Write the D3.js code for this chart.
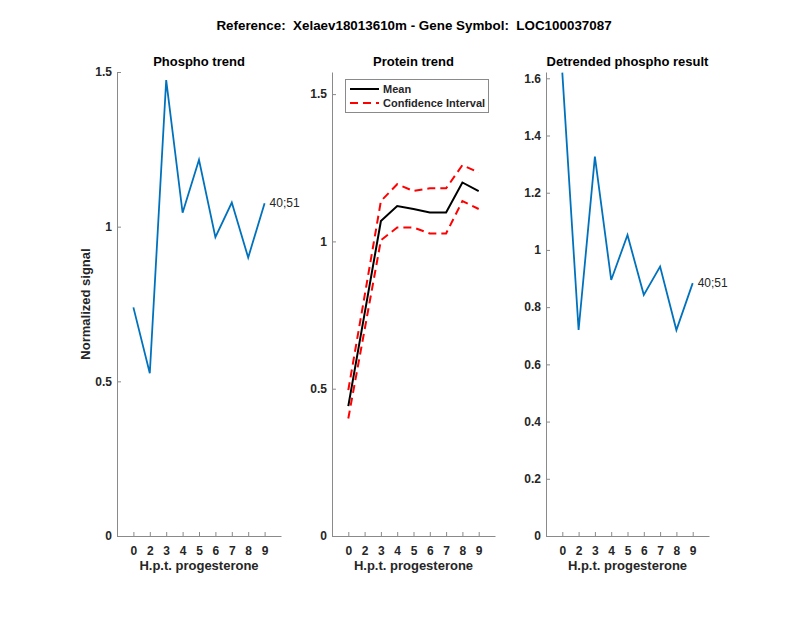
<!DOCTYPE html>
<html>
<head>
<meta charset="utf-8">
<script src="https://cdn.jsdelivr.net/npm/d3@7/dist/d3.min.js"></script>
<style>
  html, body { margin: 0; padding: 0; background: #fff; }
  text { font-family: "Liberation Sans", Arial, Helvetica, sans-serif; }
</style>
</head>
<body>
<svg id="chart" width="800" height="618"></svg>
<script>
// ---- data ----
const xPositions = [1, 2, 3, 4, 5, 6, 7, 8, 9];
const xTickLabels = ["0", "2", "3", "4", "5", "6", "7", "8", "9"];
const phosphoValues = [0.739, 0.526, 1.474, 1.045, 1.216, 0.966, 1.078, 0.900, 1.076];
const proteinMean = [0.441, 0.755, 1.069, 1.120, 1.110, 1.098, 1.098, 1.200, 1.171];
const proteinUpper = [0.495, 0.815, 1.137, 1.194, 1.171, 1.180, 1.180, 1.259, 1.234];
const proteinLower = [0.399, 0.700, 1.004, 1.047, 1.047, 1.027, 1.027, 1.137, 1.110];
const detrendedValues = [1.620, 0.720, 1.326, 0.895, 1.052, 0.843, 0.942, 0.720, 0.884];
const phosphoYTicks = [0, 0.5, 1, 1.5];
const proteinYTicks = [0, 0.5, 1, 1.5];
const detrendedYTicks = [0, 0.2, 0.4, 0.6, 0.8, 1, 1.2, 1.4, 1.6];
const peptideLabel = "40;51";
const mainTitle = "Reference:  Xelaev18013610m - Gene Symbol:  LOC100037087";

const svg = d3.select("#chart");
const plotTop = 72, plotBottom = 536;
const axisColor = "#8a8a8a", textColor = "#262626";

svg.append("text").attr("x", 414).attr("y", 30).attr("text-anchor", "middle")
  .attr("font-size", 13.4).attr("font-weight", "bold").attr("fill", "#000")
  .attr("xml:space", "preserve").style("white-space", "pre").text(mainTitle);

const panels = [
  { x0: 117, x1: 281, yMax: 1.5, ticks: phosphoYTicks, title: "Phospho trend" },
  { x0: 332, x1: 495, yMax: 1.575, ticks: proteinYTicks, title: "Protein trend" },
  { x0: 546, x1: 709, yMax: 1.622, ticks: detrendedYTicks, title: "Detrended phospho result" }
];

panels.forEach((p, i) => {
  p.x = d3.scaleLinear().domain([0, 10]).range([p.x0, p.x1]);
  p.y = d3.scaleLinear().domain([0, p.yMax]).range([plotBottom, plotTop]);
  const g = svg.append("g");

  const xAxis = d3.axisBottom(p.x).tickValues(xPositions)
    .tickFormat((d, k) => xTickLabels[k]).tickSizeInner(-4).tickSizeOuter(0).tickPadding(8);
  const gx = g.append("g").attr("transform", `translate(0,${plotBottom})`).call(xAxis);
  const yAxis = d3.axisLeft(p.y).tickValues(p.ticks).tickFormat(d3.format("~g"))
    .tickSizeInner(-4).tickSizeOuter(0).tickPadding(5);
  const gy = g.append("g").attr("transform", `translate(${p.x0},0)`).call(yAxis);

  [gx, gy].forEach(a => {
    a.select(".domain").attr("stroke", axisColor).attr("stroke-width", 1);
    a.selectAll(".tick line").attr("stroke", axisColor);
    a.selectAll(".tick text").attr("fill", textColor).attr("font-size", 12)
      .attr("font-weight", "bold").attr("font-family", "Liberation Sans, Arial, sans-serif");
  });
  gx.selectAll(".tick text").attr("dy", "0.9em");

  g.append("text").attr("x", (p.x0 + p.x1) / 2).attr("y", 66).attr("text-anchor", "middle")
    .attr("font-size", 13).attr("font-weight", "bold").attr("fill", "#000").text(p.title);
  g.append("text").attr("x", (p.x0 + p.x1) / 2).attr("y", 570).attr("text-anchor", "middle")
    .attr("font-size", 13).attr("font-weight", "bold").attr("fill", textColor).text("H.p.t. progesterone");
});

svg.append("text").attr("transform", `translate(90,${(plotTop + plotBottom) / 2}) rotate(-90)`)
  .attr("text-anchor", "middle").attr("font-size", 13).attr("font-weight", "bold")
  .attr("fill", textColor).text("Normalized signal");

function lineFor(p) {
  return d3.line().x((d, k) => p.x(xPositions[k])).y(d => p.y(d));
}

const p1 = panels[0];
svg.append("path").datum(phosphoValues).attr("d", lineFor(p1))
  .attr("fill", "none").attr("stroke", "#0072BD").attr("stroke-width", 1.8);
svg.append("text").attr("x", p1.x(9) + 5).attr("y", p1.y(phosphoValues[8]) + 4)
  .attr("font-size", 12).attr("fill", textColor).text(peptideLabel);

const p2 = panels[1];
[proteinUpper, proteinLower].forEach(arr => {
  svg.append("path").datum(arr).attr("d", lineFor(p2))
    .attr("fill", "none").attr("stroke", "#ff0000").attr("stroke-width", 2)
    .attr("stroke-dasharray", "8,5");
});
svg.append("path").datum(proteinMean).attr("d", lineFor(p2))
  .attr("fill", "none").attr("stroke", "#000").attr("stroke-width", 2);

const lg = svg.append("g");
lg.append("rect").attr("x", 345.5).attr("y", 79.5).attr("width", 143).attr("height", 33)
  .attr("fill", "#fff").attr("stroke", "#8a8a8a").attr("stroke-width", 1);
lg.append("line").attr("x1", 350).attr("x2", 379).attr("y1", 89).attr("y2", 89)
  .attr("stroke", "#000").attr("stroke-width", 2);
lg.append("line").attr("x1", 350).attr("x2", 379).attr("y1", 103).attr("y2", 103)
  .attr("stroke", "#ff0000").attr("stroke-width", 2).attr("stroke-dasharray", "8,5");
lg.append("text").attr("x", 383).attr("y", 93).attr("font-size", 11).attr("font-weight", "bold")
  .attr("fill", textColor).text("Mean");
lg.append("text").attr("x", 383).attr("y", 107).attr("font-size", 11).attr("font-weight", "bold")
  .attr("fill", textColor).text("Confidence Interval");

const p3 = panels[2];
svg.append("path").datum(detrendedValues).attr("d", lineFor(p3))
  .attr("fill", "none").attr("stroke", "#0072BD").attr("stroke-width", 1.8);
svg.append("text").attr("x", p3.x(9) + 5).attr("y", p3.y(detrendedValues[8]) + 4)
  .attr("font-size", 12).attr("fill", textColor).text(peptideLabel);
</script>
</body>
</html>
